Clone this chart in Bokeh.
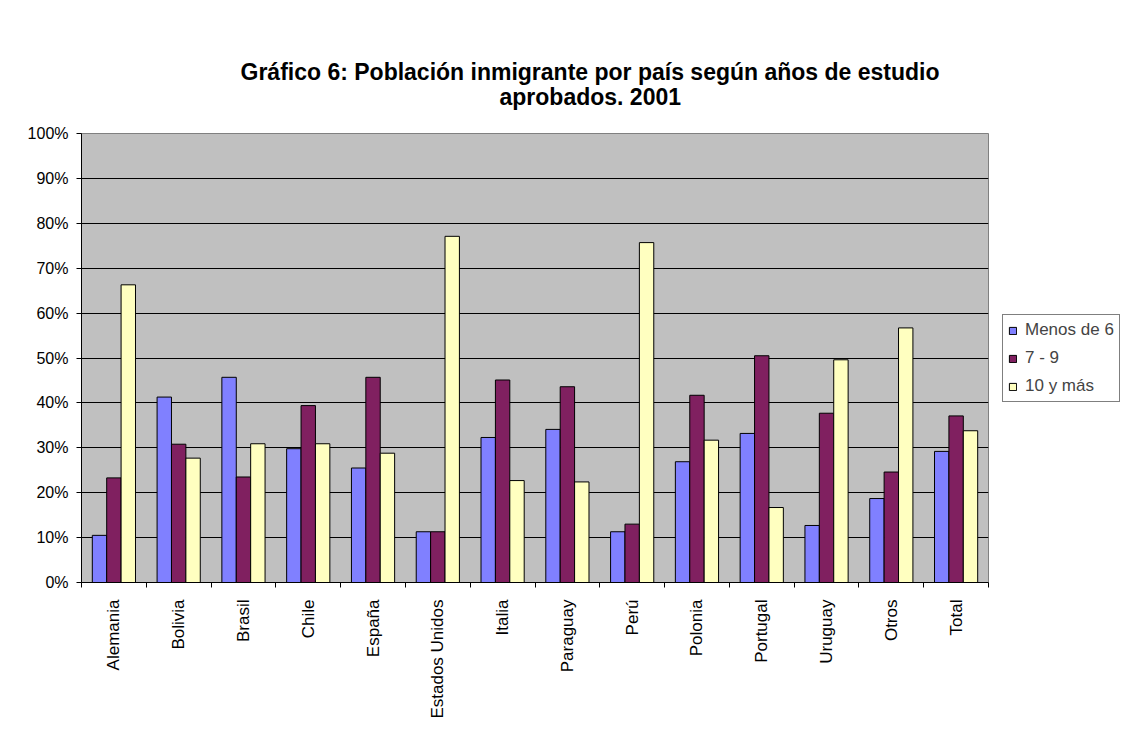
import math
from bokeh.plotting import figure
from bokeh.models import (FixedTicker, PrintfTickFormatter, Range1d, ColumnDataSource,
                          Legend, LegendItem, Title)
from bokeh.transform import dodge
from bokeh.embed import file_html
from bokeh.resources import INLINE

# ---------------- data ----------------
countries = ["Alemania", "Bolivia", "Brasil", "Chile", "España", "Estados Unidos", "Italia",
             "Paraguay", "Perú", "Polonia", "Portugal", "Uruguay", "Otros", "Total"]
menos_de_6 = [10.5, 41.3, 45.7, 29.8, 25.5, 11.3, 32.3, 34.1, 11.3, 26.9, 33.2, 12.7, 18.7, 29.2]
siete_a_9 = [23.3, 30.8, 23.5, 39.4, 45.7, 11.3, 45.1, 43.6, 13.0, 41.7, 50.5, 37.7, 24.6, 37.1]
diez_y_mas = [66.3, 27.7, 30.9, 30.9, 28.8, 77.1, 22.7, 22.4, 75.7, 31.7, 16.7, 49.6, 56.7, 33.8]
series_names = ["Menos de 6", "7 - 9", "10 y más"]
y_ticks = [0, 10, 20, 30, 40, 50, 60, 70, 80, 90, 100]
title_lines = ["Gráfico 6: Población inmigrante por país según años de estudio",
               "aprobados. 2001"]

# ---------------- styling ----------------
colors = ["#8080FF", "#802060", "#FFFFC0"]
FONT = "Liberation Sans"
n = len(countries)
pos = list(range(1, n + 1))
bar_w = 1 / 4.5  # Excel gap width 150%
offsets = [-bar_w, 0.0, bar_w]

src = ColumnDataSource(dict(x=pos, menos=menos_de_6, siete=siete_a_9, diez=diez_y_mas))

p = figure(frame_width=907, frame_height=449,
           min_border_left=81, min_border_top=133, min_border_right=132, min_border_bottom=148,
           x_range=Range1d(0.5, n + 0.5), y_range=Range1d(0, 100),
           output_backend="svg", toolbar_location=None, tools="")

p.background_fill_color = "#C0C0C0"
p.border_fill_color = "white"
p.outline_line_color = "#808080"
p.outline_line_width = 1

renderers = []
for col, off, c in zip(["menos", "siete", "diez"], offsets, colors):
    r = p.vbar(x=dodge("x", off), top=col, width=bar_w, source=src,
               fill_color=c, line_color="black", line_width=1)
    renderers.append(r)

# y axis
p.yaxis.ticker = FixedTicker(ticks=y_ticks)
p.yaxis.formatter = PrintfTickFormatter(format="%d%%")
p.yaxis.major_label_text_font = FONT
p.yaxis.major_label_text_font_size = "16px"
p.yaxis.major_label_text_color = "black"
p.yaxis.major_tick_out = 5
p.yaxis.major_tick_in = 0
p.yaxis.minor_tick_line_color = None
p.yaxis.major_label_standoff = 8
p.yaxis.axis_line_color = "black"
p.yaxis.major_tick_line_color = "black"

p.ygrid.ticker = FixedTicker(ticks=y_ticks)
p.ygrid.grid_line_color = "black"
p.ygrid.grid_line_alpha = 1.0
p.xgrid.visible = False

# x axis: labels at category centres, ticks at category boundaries
p.xaxis.ticker = FixedTicker(ticks=pos, minor_ticks=[k + 0.5 for k in range(0, n + 1)])
p.xaxis.major_label_overrides = {k: name for k, name in zip(pos, countries)}
p.xaxis.major_label_orientation = math.pi / 2
p.xaxis.major_label_text_font = FONT
p.xaxis.major_label_text_font_size = "17px"
p.xaxis.major_label_text_color = "black"
p.xaxis.major_tick_out = 0
p.xaxis.major_tick_in = 0
p.xaxis.minor_tick_out = 5
p.xaxis.minor_tick_in = 0
p.xaxis.minor_tick_line_color = "black"
p.xaxis.major_label_standoff = 12
p.xaxis.axis_line_color = "black"

# legend (right side panel)
legend = Legend(items=[LegendItem(label=nm, renderers=[r]) for nm, r in zip(series_names, renderers)],
                location=(14, 180))
legend.border_line_color = "black"
legend.border_line_width = 1
legend.background_fill_color = "white"
legend.background_fill_alpha = 1.0
legend.label_text_font = FONT
legend.label_text_font_size = "17px"
legend.glyph_width = 9
legend.glyph_height = 9
legend.label_height = 20
legend.label_standoff = 8
legend.spacing = 8
legend.padding = 5
legend.margin = 0
p.add_layout(legend, "right")

# title: two bold lines (line 2 added first: it sits closest to the plot)
p.add_layout(Title(text=title_lines[1], align="left", offset=418, standoff=43,
                   vertical_align="top",
                   text_font=FONT, text_font_style="bold", text_font_size="23px",
                   text_color="black"), "above")
p.add_layout(Title(text=title_lines[0], align="left", offset=159, standoff=-45,
                   text_font=FONT, text_font_style="bold", text_font_size="23px",
                   text_color="black"), "above")

open("out.html", "w").write(file_html(p, INLINE))
